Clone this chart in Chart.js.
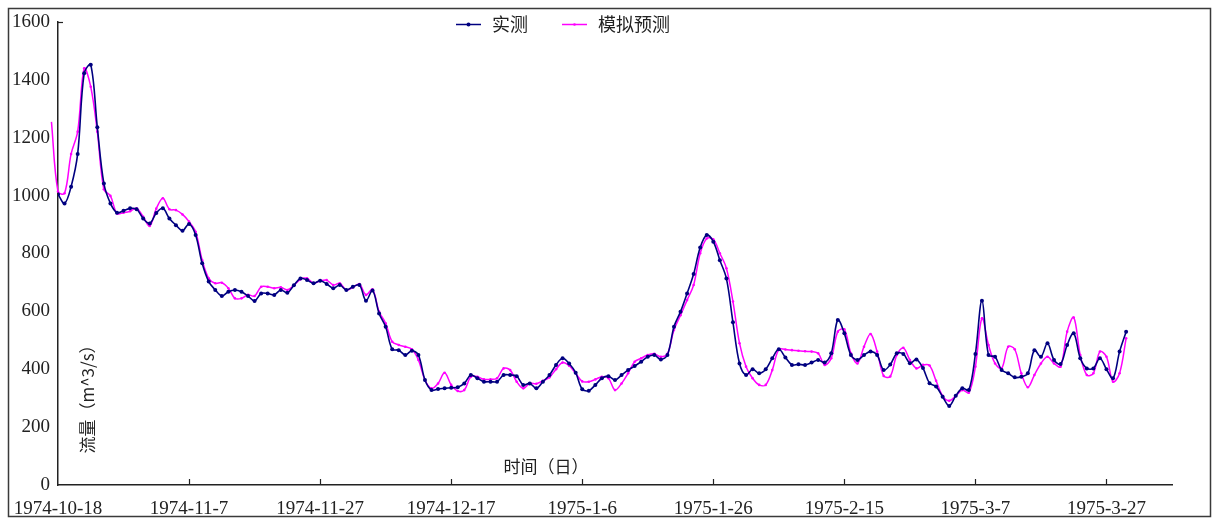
<!DOCTYPE html>
<html>
<head>
<meta charset="utf-8">
<script src="https://cdn.jsdelivr.net/npm/chart.js@4.4.1/dist/chart.umd.min.js"></script>
<style>
  html, body { margin: 0; padding: 0; background: #fff; }
  #wrap { width: 1214px; height: 521px; }
</style>
</head>
<body>
<div id="wrap"><canvas id="chart" width="1214" height="521"></canvas></div>
<script>
// day 0 = 1974-10-18
const xTickLabels = ['1974-10-18', '1974-11-7', '1974-11-27', '1974-12-17', '1975-1-6',
  '1975-1-26', '1975-2-15', '1975-3-7', '1975-3-27']

const observedStart = 0
const observed = [
  1005, 973, 1031, 1144, 1423, 1452, 1236, 1042, 973, 941,
  948, 956, 953, 921, 904, 940, 956, 921, 898, 879,
  902, 864, 766, 703, 674, 653, 668, 674, 668, 653,
  636, 662, 662, 657, 674, 664, 690, 714, 708, 697,
  706, 695, 680, 691, 674, 685, 691, 637, 672, 593,
  547, 469, 466, 449, 464, 449, 363, 328, 332, 334,
  336, 338, 351, 380, 369, 357, 357, 357, 380, 380,
  376, 346, 351, 334, 357, 380, 415, 438, 420, 388,
  331, 326, 346, 369, 376, 363, 380, 397, 411, 426,
  443, 449, 434, 449, 547, 599, 662, 729, 821, 864,
  841, 777, 714, 562, 420, 380, 400, 386, 400, 438,
  469, 441, 415, 417, 415, 423, 432, 423, 455, 570,
  524, 449, 432, 449, 461, 449, 397, 416, 455, 453,
  421, 434, 404, 352, 340, 305, 273, 308, 334, 328,
  453, 637, 449, 443, 397, 386, 372, 374, 386, 466,
  443, 490, 432, 418, 484, 524, 438, 403, 403, 438,
  400, 369, 461, 530
]

const simulatedStart = -1
const simulated = [
  1255,
  1014, 1008, 1144, 1221, 1440, 1376, 1221, 1022, 999, 938,
  941, 946, 956, 927, 895, 955, 991, 953, 950, 935,
  910, 875, 777, 714, 697, 699, 680, 645, 645, 657,
  653, 685, 685, 680, 683, 674, 690, 711, 714, 698,
  705, 708, 691, 697, 674, 683, 694, 657, 676, 599,
  559, 495, 484, 478, 469, 432, 363, 334, 351, 388,
  346, 325, 328, 374, 374, 365, 365, 369, 403, 397,
  357, 334, 351, 350, 360, 372, 400, 423, 412, 386,
  358, 357, 365, 374, 369, 328, 351, 386, 426, 438,
  449, 453, 443, 453, 536, 587, 639, 691, 801, 852,
  849, 801, 749, 634, 490, 409, 369, 346, 346, 397,
  469, 468, 466, 464, 462, 461, 455, 415, 438, 530,
  538, 455, 420, 478, 522, 461, 377, 375, 449, 474,
  432, 403, 415, 413, 360, 308, 291, 308, 328, 319,
  409, 576, 484, 420, 403, 478, 469, 386, 338, 380,
  420, 443, 420, 409, 530, 579, 449, 380, 386, 461,
  443, 357, 386, 507
]

const toPoints = (values, start) => values.map((v, i) => ({ x: start + i, y: v }))

const serif = '"Liberation Serif", "Times New Roman", "Noto Sans CJK SC", serif'
const cjk = '"Noto Sans CJK SC", "Liberation Serif", serif'

// frame, inner tick marks, axis titles and legend drawn on the canvas
const decorations = {
  id: 'decorations',
  beforeDraw(chart) {
    const { ctx } = chart
    ctx.save()
    ctx.fillStyle = '#fff'
    ctx.fillRect(0, 0, chart.width, chart.height)
    ctx.strokeStyle = '#3a3a3a'
    ctx.lineWidth = 1.5
    ctx.strokeRect(8.5, 8.5, 1202, 508)
    ctx.restore()
  },
  afterDraw(chart) {
    const { ctx, chartArea, scales } = chart
    ctx.save()
    // x ticks pointing up into the plot
    ctx.strokeStyle = '#222'
    ctx.lineWidth = 1.2
    for (let v = 20; v <= 160; v += 20) {
      const px = Math.round(scales.x.getPixelForValue(v)) + 0.5
      ctx.beginPath()
      ctx.moveTo(px, chartArea.bottom)
      ctx.lineTo(px, chartArea.bottom - 6)
      ctx.stroke()
    }
    // top tick on y axis
    const top = Math.round(scales.y.getPixelForValue(1600)) + 0.5
    ctx.beginPath()
    ctx.moveTo(chartArea.left, top)
    ctx.lineTo(chartArea.left + 5, top)
    ctx.stroke()

    ctx.fillStyle = '#222'
    ctx.font = '17px ' + cjk
    ctx.textAlign = 'center'
    ctx.textBaseline = 'middle'
    ctx.fillText('时间（日）', 546, 467)

    ctx.save()
    ctx.translate(88, 395)
    ctx.rotate(-Math.PI / 2)
    ctx.fillText('流量（m^3/s）', 0, 0)
    ctx.restore()

    // legend
    const items = [
      { ds: chart.data.datasets[0], x0: 456, x1: 481, tx: 492 },
      { ds: chart.data.datasets[1], x0: 562, x1: 587, tx: 598 }
    ]
    ctx.font = '18px ' + cjk
    ctx.textAlign = 'left'
    items.forEach(it => {
      ctx.strokeStyle = it.ds.borderColor
      ctx.lineWidth = 1.5
      ctx.beginPath()
      ctx.moveTo(it.x0, 24.5)
      ctx.lineTo(it.x1, 24.5)
      ctx.stroke()
      ctx.fillStyle = it.ds.borderColor
      ctx.beginPath()
      ctx.arc((it.x0 + it.x1) / 2, 24.5, it.ds.pointRadius, 0, Math.PI * 2)
      ctx.fill()
      ctx.fillStyle = '#222'
      ctx.fillText(it.ds.label, it.tx, 24)
    })
    ctx.restore()
  }
}

new Chart(document.getElementById('chart'), {
  type: 'line',
  data: {
    datasets: [
      {
        label: '实测',
        data: toPoints(observed, observedStart),
        borderColor: '#000080',
        backgroundColor: '#000080',
        borderWidth: 1.6,
        pointRadius: 2,
        pointBorderWidth: 0,
        tension: 0.35,
        order: 1
      },
      {
        label: '模拟预测',
        data: toPoints(simulated, simulatedStart),
        borderColor: '#ff00ff',
        backgroundColor: '#ff00ff',
        borderWidth: 1.5,
        pointRadius: 1.3,
        pointBorderWidth: 0,
        tension: 0.35,
        clip: false,
        order: 2
      }
    ]
  },
  options: {
    responsive: false,
    animation: false,
    layout: { padding: { left: 9, right: 42, top: 22, bottom: 0 } },
    plugins: { legend: { display: false }, tooltip: { enabled: false } },
    scales: {
      x: {
        type: 'linear',
        min: 0,
        max: 170,
        grid: { display: false, drawTicks: false },
        border: { display: true, color: '#222', width: 1.5 },
        afterFit(scale) { scale.height = 36 },
        ticks: {
          stepSize: 20,
          includeBounds: false,
          autoSkip: false,
          maxRotation: 0,
          padding: 13,
          color: '#222',
          font: { family: serif, size: 19 },
          callback: v => xTickLabels[v / 20] ?? ''
        }
      },
      y: {
        min: 0,
        max: 1600,
        grid: { display: false, drawTicks: false },
        border: { display: true, color: '#222', width: 1.5 },
        afterFit(scale) { scale.width = 49 },
        ticks: {
          stepSize: 200,
          padding: 8,
          color: '#222',
          font: { family: serif, size: 19 },
          callback: v => String(v)
        }
      }
    }
  },
  plugins: [decorations]
})
</script>
</body>
</html>
